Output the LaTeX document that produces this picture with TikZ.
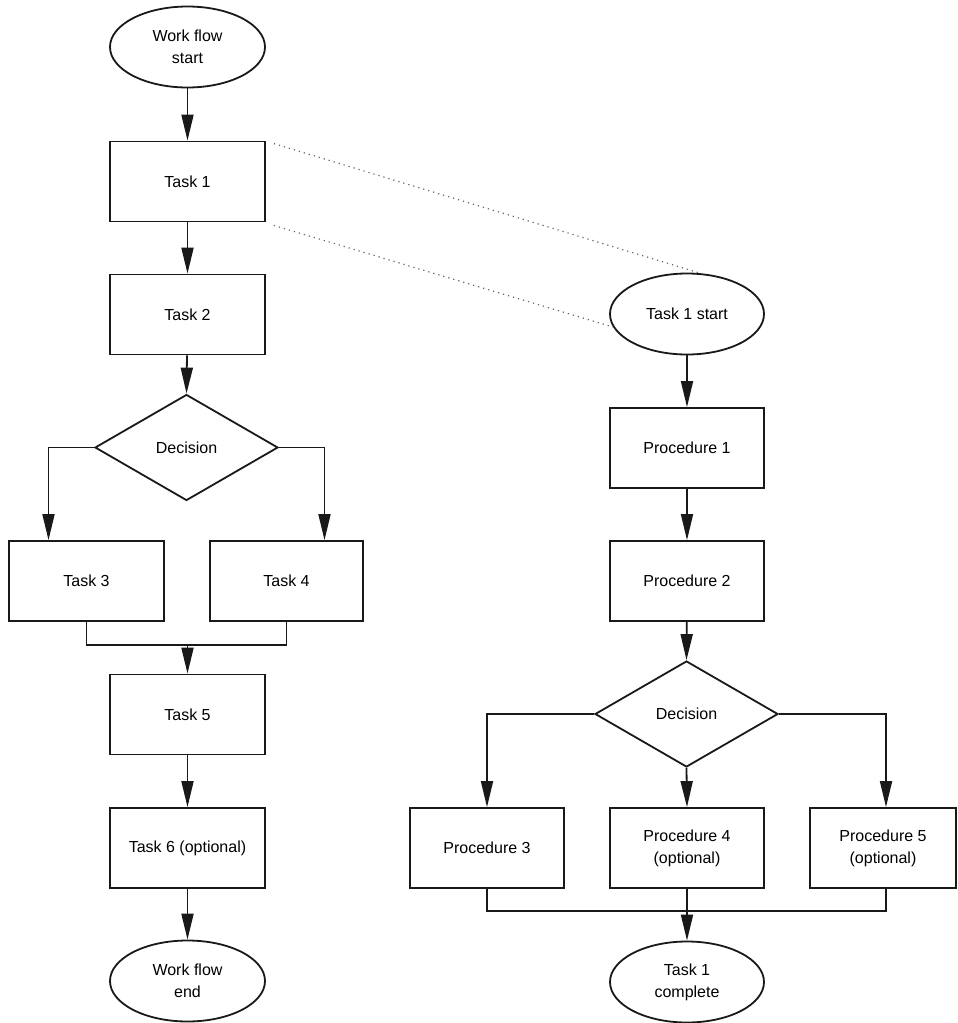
\documentclass[tikz,border=0pt]{standalone}
\usepackage{fontspec}
\setmainfont{Liberation Sans}
\usetikzlibrary{shapes.geometric,arrows.meta,calc}
\begin{document}
\begin{tikzpicture}[x=1pt,y=-1pt,
  every node/.style={font=\fontsize{16}{22}\selectfont, align=center, draw=black!90, line width=1.8pt, inner sep=0pt},
  box/.style={rectangle, minimum width=155pt, minimum height=80pt},
  oval/.style={ellipse, minimum width=155pt, minimum height=81pt},
  dec/.style={diamond, minimum width=183pt, minimum height=106pt},
  arr/.style={draw=black!90, line width=1.8pt, -{Triangle[length=26pt,width=12pt]}},
  ln/.style={draw=black!90, line width=1.8pt},
  dotline/.style={black!60, line width=1.2pt, dash pattern=on 1.2pt off 4pt}]
\useasboundingbox (0,0) rectangle (958,1023);
\fill[white] (0,0) rectangle (958,1023);

% left column
\node[oval] (ws) at (187.5,47) {Work flow\\start};
\node[box] (t1) at (187.5,181.5) {Task 1};
\node[box] (t2) at (187.5,314.5) {Task 2};
\node[dec] (d1) at (186.5,447.5) {Decision};
\node[box] (t3) at (86.5,581) {Task 3};
\node[box, minimum width=153pt] (t4) at (286.5,581) {Task 4};
\node[box] (t5) at (187.5,714.5) {Task 5};
\node[box] (t6) at (187.5,848) {Task 6 (optional)};
\node[oval] (we) at (187.5,981) {Work flow\\end};
\coordinate (m1) at (187.5,645);

\draw[arr] (ws) -- (t1);
\draw[arr] (t1) -- (t2);
\draw[arr] (t2) -- (d1.north);
\draw[arr] (d1.west) -| ([xshift=-38pt]t3.north);
\draw[arr] (d1.east) -| ([xshift=38pt]t4.north);
\draw[ln] (t3.south) |- (m1) -| (t4.south);
\draw[arr] (m1) -- (t5.north);
\draw[arr] (t5) -- (t6);
\draw[arr] (t6) -- (we);

% right column
\node[oval, minimum width=154pt] (ts) at (687,314) {Task 1 start};
\node[box, minimum width=154pt] (p1) at (687,448) {Procedure 1};
\node[box, minimum width=154pt] (p2) at (687,581) {Procedure 2};
\node[dec] (d2) at (686.5,714) {Decision};
\node[box, minimum width=154pt] (p3) at (487,848) {Procedure 3};
\node[box, minimum width=154pt] (p4) at (687,848) {Procedure 4\\(optional)};
\node[box, minimum width=146pt] (p5) at (883,848) {Procedure 5\\(optional)};
\node[oval, minimum width=154pt] (tc) at (687,982) {Task 1\\complete};
\coordinate (m2) at (687,911);

\draw[arr] (ts) -- (p1);
\draw[arr] (p1) -- (p2);
\draw[arr] (p2) -- (d2.north);
\draw[arr] (d2.west) -| (p3.north);
\draw[arr] (d2.south) -- (p4.north);
\draw[arr] (d2.east) -| ([xshift=3pt]p5.north);
\draw[ln] (p3.south) |- (m2) -| ([xshift=3pt]p5.south);
\draw[ln] (p4.south) -- (m2);
\draw[arr] (m2) -- (tc.north);

% dotted expansion lines
\draw[dotline] ([xshift=8pt,yshift=-3pt]t1.north east) -- (ts.72);
\draw[dotline] ([xshift=8pt,yshift=-3pt]t1.south east) -- (ts.190);
\end{tikzpicture}
\end{document}
